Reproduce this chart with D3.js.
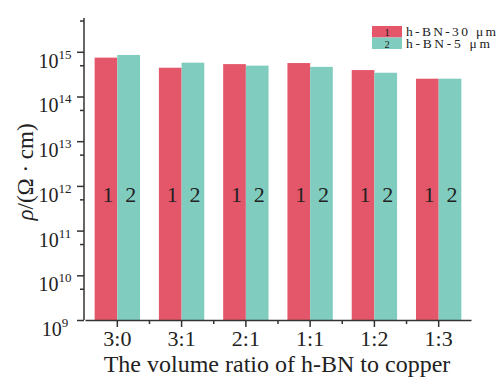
<!DOCTYPE html>
<html>
<head>
<meta charset="utf-8">
<script src="https://cdn.jsdelivr.net/npm/d3@7"></script>
<style>
  body { margin: 0; background: #fff; }
  svg { display: block; font-family: "Liberation Serif", "Times New Roman", serif; }
  .axis path, .axis line { stroke: #333; stroke-width: 1.5; }
</style>
</head>
<body>
<div id="chart"></div>
<script>
// categories and values
const ratios = ["3:0", "3:1", "2:1", "1:1", "1:2", "1:3"];
const series = ["h-BN-30 μm", "h-BN-5 μm"];
const bn30 = [7.4e14, 4.4e14, 5.3e14, 5.6e14, 3.9e14, 2.5e14];
const bn5 = [8.5e14, 5.7e14, 4.9e14, 4.6e14, 3.4e14, 2.5e14];
const decades = [9, 10, 11, 12, 13, 14, 15];
const colors = ["#e4566a", "#80cdbf"];

const width = 501, height = 377;
const plot = {left: 85, right: 471, top: 18, bottom: 320};

const svg = d3.select("#chart")
  .append("svg")
    .attr("width", width)
    .attr("height", height);

const x = d3.scaleBand()
  .domain(ratios)
  .range([plot.left, plot.right])
  .paddingInner(0.294)
  .paddingOuter(0.15);

const xs = d3.scaleBand()
  .domain(series)
  .range([0, x.bandwidth()]);

const y = d3.scaleLog()
  .domain([1e9, 5.7e15])
  .range([plot.bottom, plot.top]);

// bars
const rows = ratios.map((r, i) => ({ratio: r, vals: [bn30[i], bn5[i]]}));
const groups = svg.append("g")
  .selectAll("g")
  .data(rows)
  .join("g")
    .attr("transform", d => `translate(${x(d.ratio)},0)`);

groups.selectAll("rect")
  .data(d => d.vals.map((v, j) => ({s: series[j], v: v, j: j})))
  .join("rect")
    .attr("x", d => xs(d.s))
    .attr("y", d => y(d.v))
    .attr("width", xs.bandwidth())
    .attr("height", d => plot.bottom - y(d.v))
    .attr("fill", d => colors[d.j]);

groups.selectAll("text")
  .data(series)
  .join("text")
    .attr("x", (d, j) => xs(d) + xs.bandwidth() / 2 + 2)
    .attr("y", 194)
    .attr("text-anchor", "middle")
    .attr("dominant-baseline", "central")
    .attr("font-size", 22)
    .attr("fill", "#222")
    .text((d, j) => j + 1);

// x axis
const xAxis = svg.append("g")
  .attr("class", "axis")
  .attr("transform", `translate(0,${plot.bottom})`)
  .call(d3.axisBottom(x).tickSize(7).tickSizeOuter(0));
xAxis.selectAll("text")
  .attr("font-size", 22)
  .attr("font-family", "Liberation Serif")
  .attr("fill", "#222")
  .attr("y", 8)
  .attr("dy", "0.8em");
xAxis.selectAll(".tick")
  .each(function(d, i) {
    if (i < ratios.length - 1) {
      d3.select(this).append("line")
        .attr("x1", x.step() / 2).attr("x2", x.step() / 2)
        .attr("y2", 4)
        .attr("stroke", "#333").attr("stroke-width", 1.5);
    }
  });

// y axis
const yAxis = svg.append("g")
  .attr("class", "axis")
  .attr("transform", `translate(${plot.left - 1},0)`)
  .call(d3.axisLeft(y)
    .tickValues(decades.map(d => Math.pow(10, d)))
    .tickSize(7)
    .tickSizeOuter(0)
    .tickFormat(""));
yAxis.select(".domain").attr("d", `M0,${plot.top}V${plot.bottom}`);

svg.append("g")
  .attr("class", "axis")
  .attr("transform", `translate(${plot.left - 1},0)`)
  .call(d3.axisLeft(y)
    .tickValues(decades.map(d => 5 * Math.pow(10, d)))
    .tickSize(4)
    .tickFormat(""))
  .select(".domain").remove();

const yLab = svg.append("g")
  .selectAll("text")
  .data(decades)
  .join("text")
    .attr("x", 55)
    .attr("y", d => y(Math.pow(10, d)) + 16)
    .attr("text-anchor", "middle")
    .attr("font-size", 20)
    .attr("fill", "#222");
yLab.append("tspan").text("10");
yLab.append("tspan")
  .attr("dy", -9)
  .attr("font-size", 13)
  .text(d => d);

// axis titles
svg.append("text")
  .attr("transform", "translate(33,172) rotate(-90)")
  .attr("text-anchor", "middle")
  .attr("font-size", 23)
  .attr("fill", "#222")
  .html('<tspan font-style="italic">ρ</tspan>/(Ω · cm)');

svg.append("text")
  .attr("x", 277)
  .attr("y", 372)
  .attr("text-anchor", "middle")
  .attr("font-size", 24)
  .attr("fill", "#222")
  .text("The volume ratio of h-BN to copper");

// legend
const legendWidths = [90, 84];
const legend = svg.append("g")
  .selectAll("g")
  .data(series)
  .join("g")
    .attr("transform", (d, i) => `translate(372,${26 + i * 11.5})`);
legend.append("rect")
  .attr("width", 30)
  .attr("height", 11.5)
  .attr("fill", (d, i) => colors[i]);
legend.append("text")
  .attr("x", 15)
  .attr("y", 10)
  .attr("text-anchor", "middle")
  .attr("font-size", 10.5)
  .attr("fill", "#222")
  .text((d, i) => i + 1);
legend.append("text")
  .attr("x", 34)
  .attr("y", 10)
  .attr("font-size", 13.5)
  .attr("textLength", (d, i) => legendWidths[i])
  .attr("lengthAdjust", "spacing")
  .attr("fill", "#222")
  .text(d => d);
</script>
</body>
</html>
